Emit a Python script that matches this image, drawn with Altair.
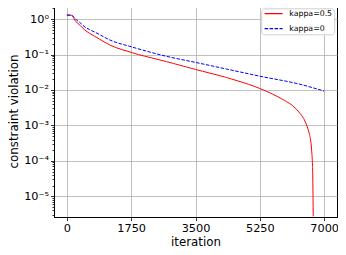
import altair as alt
import pandas as pd

# ---- data ----
red_iter = [0, 110, 160, 218, 350, 490, 612, 820, 1170, 1750, 2712, 3500, 4343, 5250,
            5600, 5930, 6150, 6342, 6450, 6541, 6600, 6633, 6660, 6677, 6690, 6703]
red_val = [1.30, 1.29, 1.17, 0.93, 0.68, 0.49, 0.40, 0.30, 0.186, 0.115, 0.063, 0.038,
           0.0224, 0.011, 0.0076, 0.0050, 0.00355, 0.00219, 0.00151, 0.00091, 0.00056,
           0.00038, 0.0002, 0.000105, 0.00004, 0.0000027]

blue_iter = [0, 130, 200, 260, 350, 490, 612, 820, 1170, 1750, 2712, 3500, 4343, 5250,
             6342, 7000]
blue_val = [1.30, 1.29, 1.12, 0.95, 0.81, 0.60, 0.51, 0.40, 0.257, 0.166, 0.089, 0.060,
            0.039, 0.0245, 0.0145, 0.0093]

series_names = ["kappa=0.5", "kappa=0"]
series_colors = ["#ff0000", "#0000ff"]
series_dash = [[6, 0], [3.5, 1.5]]

x_ticks = [0, 1750, 3500, 5250, 7000]

rows = []
for i, v in zip(red_iter, red_val):
    rows.append({"iteration": i, "value": v, "series": series_names[0], "order": i})
for i, v in zip(blue_iter, blue_val):
    rows.append({"iteration": i, "value": v, "series": series_names[1], "order": i})
df = pd.DataFrame(rows)

# y axis tick values: decades plus minor ticks
y_values = []
for e in range(-6, 1):
    for m in range(1, 10):
        v = float(f"{m}e{e}")
        if 2.6e-6 <= v <= 2.5:
            y_values.append(v)

is_decade = "abs(log(datum.value)/LN10 - round(log(datum.value)/LN10)) < 1e-6"
sup = "['⁰','¹','²','³','⁴','⁵','⁶']"
label_expr = (f"{is_decade} ? '10' + (round(log(datum.value)/LN10) < 0 ? '⁻' : '') + "
              f"{sup}[abs(round(log(datum.value)/LN10))] : ''")

FONT = "DejaVu Sans"

legend_kw = dict(title=None, orient="none", legendX=207.2, legendY=3.3,
                 symbolType="M-1,0H8", symbolSize=16, symbolStrokeWidth=1.2,
                 labelFontSize=7.8, labelFont=FONT, labelColor="black", labelOffset=18.8,
                 rowPadding=6, padding=1.5, strokeColor="#d0d0d0", fillColor="white",
                 cornerRadius=3, labelLimit=200)

chart = alt.Chart(df).mark_line(strokeWidth=1, clip=True, interpolate="monotone").encode(
    x=alt.X("iteration:Q",
            scale=alt.Scale(domain=[-350, 7350], nice=False, zero=False),
            axis=alt.Axis(values=x_ticks, title="iteration", format="d",
                          tickSize=3.5, labelPadding=2, titleY=28,
                          titleBaseline="alphabetic", labelFlush=False)),
    y=alt.Y("value:Q",
            scale=alt.Scale(type="log", domain=[2.6e-6, 2.5], nice=False),
            axis=alt.Axis(values=y_values, labelExpr=label_expr, title="constraint violation",
                          labelOverlap=False, labelFlush=False,
                          tickSize={"condition": {"test": is_decade, "value": 3.5}, "value": 2},
                          gridOpacity={"condition": {"test": is_decade, "value": 1}, "value": 0},
                          labelPadding=2, titleX=-36.3, titleBaseline="alphabetic")),
    color=alt.Color("series:N",
                    scale=alt.Scale(domain=series_names, range=series_colors),
                    legend=alt.Legend(**legend_kw)),
    strokeDash=alt.StrokeDash("series:N",
                              scale=alt.Scale(domain=series_names, range=series_dash),
                              legend=alt.Legend(**legend_kw)),
    order="order:Q",
).properties(
    width=283, height=212,
    autosize=alt.AutoSizeParams(type="none"),
    padding={"left": 46, "top": -3, "right": 1, "bottom": 30},
).configure_axis(
    labelFont=FONT, titleFont=FONT, labelFontSize=11.3, titleFontSize=11.8,
    labelColor="black", titleColor="black", titleFontWeight="normal",
    domainColor="black", domainWidth=1, tickColor="black", tickWidth=0.8,
    gridColor="#b0b0b0", gridWidth=0.8,
).configure_view(
    stroke="black", strokeWidth=1,
)

chart.save("out.html", embed_options={"renderer": "svg", "actions": False})
